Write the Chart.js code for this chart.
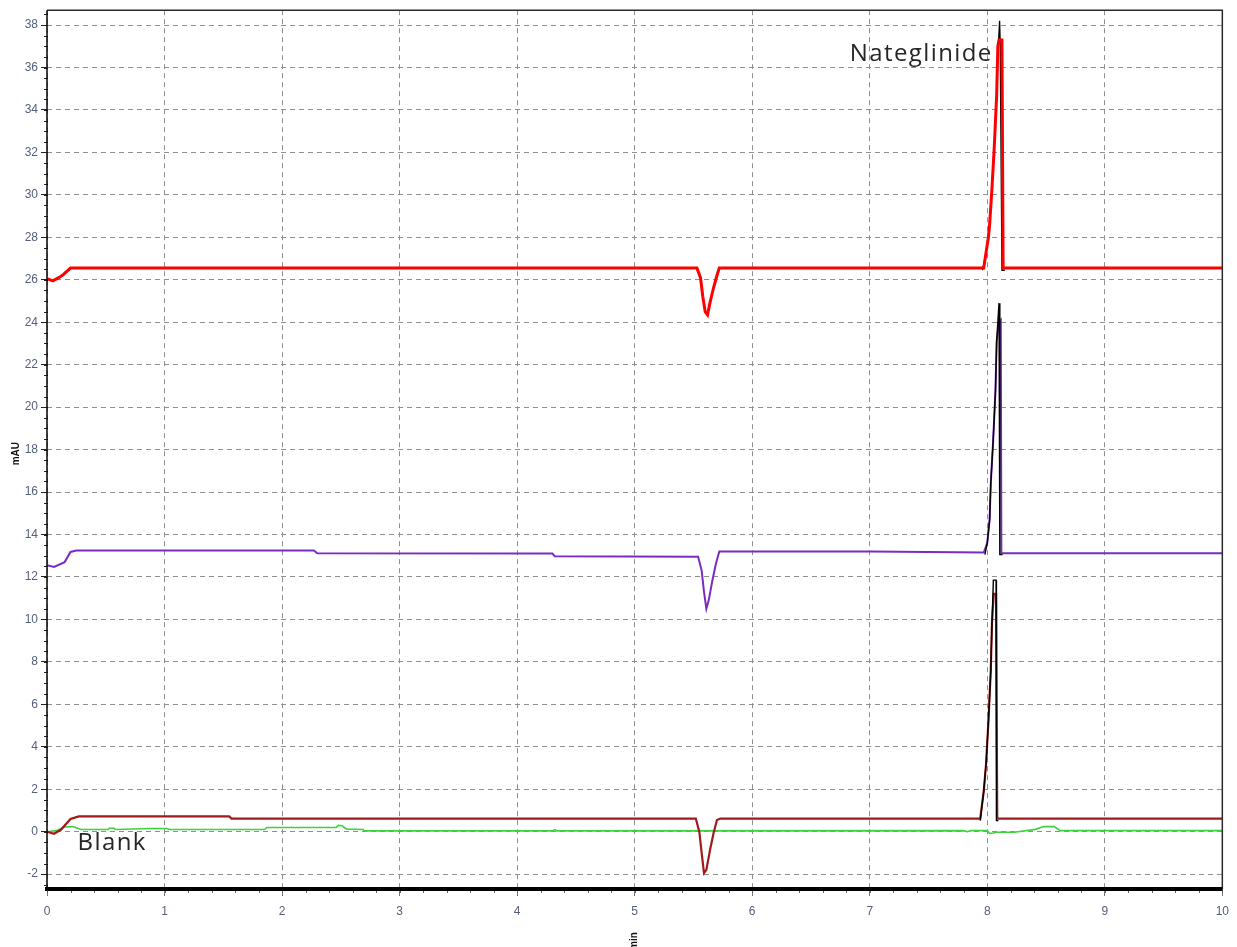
<!DOCTYPE html>
<html>
<head>
<meta charset="utf-8">
<script src="https://cdn.jsdelivr.net/npm/chart.js@4/dist/chart.umd.min.js"></script>
<style>
  html, body { margin: 0; padding: 0; background: #ffffff; }
  #wrap { width: 1237px; height: 947px; }
</style>
</head>
<body>
<div id="wrap"><canvas id="chrom" width="1237" height="947"></canvas></div>
<script>
// Axis ticks
const xTicks = [0, 1, 2, 3, 4, 5, 6, 7, 8, 9, 10];
const xTickLabels = ['0', '1', '2', '3', '4', '5', '6', '7', '8', '9', '10'];
const yTicks = [-2, 0, 2, 4, 6, 8, 10, 12, 14, 16, 18, 20, 22, 24, 26, 28, 30, 32, 34, 36, 38];
const yTickLabels = ['-2', '0', '2', '4', '6', '8', '10', '12', '14', '16', '18', '20', '22', '24', '26', '28', '30', '32', '34', '36', '38'];

// Nateglinide standard (top trace), retention time in min, signal in mAU
const redTime   = [0, 0.05, 0.1, 0.14, 0.2, 5.53, 5.56, 5.58, 5.6, 5.62, 5.64, 5.67, 5.7, 5.72, 7.97, 7.99, 8.01, 8.02, 8.04, 8.06, 8.08, 8.09, 8.1, 8.125, 8.135, 10];
const redSignal = [26.05, 25.95, 26.1, 26.25, 26.55, 26.55, 26.1, 25.2, 24.5, 24.35, 24.9, 25.6, 26.2, 26.55, 26.55, 27.3, 28.0, 28.6, 30.3, 32.3, 34.7, 37.0, 37.3, 37.3, 26.55, 26.55];
const redPeakTime   = [7.96, 7.99, 8.02, 8.04, 8.06, 8.08, 8.095, 8.105, 8.11, 8.125, 8.15];
const redPeakSignal = [26.45, 27.3, 28.6, 30.3, 32.3, 34.7, 37.1, 38.2, 37.2, 26.45, 26.45];

// Middle trace
const purpleTime   = [0, 0.06, 0.15, 0.2, 0.25, 2.27, 2.3, 4.3, 4.32, 5.54, 5.57, 5.59, 5.61, 5.63, 5.66, 5.69, 5.72, 7.0, 7.97, 8.0, 8.02, 8.03, 8.05, 8.07, 8.08, 8.1, 8.115, 8.12, 8.16, 10];
const purpleSignal = [12.55, 12.47, 12.7, 13.18, 13.25, 13.25, 13.12, 13.1, 12.98, 12.95, 12.3, 11.3, 10.5, 10.9, 11.8, 12.6, 13.2, 13.2, 13.15, 13.6, 14.7, 16.4, 18.4, 20.8, 23.1, 24.0, 24.1, 13.12, 13.12, 13.12];
const purplePeakTime   = [7.98, 8.0, 8.02, 8.03, 8.05, 8.07, 8.08, 8.1, 8.107, 8.13];
const purplePeakSignal = [13.05, 13.6, 14.7, 16.4, 18.4, 20.8, 23.1, 24.9, 13.05, 13.05];

// Lower trace
const brownTime   = [0, 0.06, 0.12, 0.2, 0.27, 1.55, 1.57, 5.52, 5.55, 5.57, 5.59, 5.61, 5.64, 5.67, 5.7, 5.73, 7.94, 7.97, 7.99, 8.01, 8.03, 8.04, 8.055, 8.075, 8.085, 8.1, 10];
const brownSignal = [0.0, -0.1, 0.1, 0.6, 0.72, 0.72, 0.62, 0.62, 0.0, -1.0, -1.95, -1.8, -0.9, -0.1, 0.55, 0.62, 0.62, 1.9, 3.2, 5.2, 7.6, 9.8, 11.2, 11.2, 0.62, 0.62, 0.62];
const brownPeakTime   = [7.94, 7.97, 7.99, 8.01, 8.03, 8.04, 8.052, 8.075, 8.078, 8.095];
const brownPeakSignal = [0.52, 1.9, 3.2, 5.2, 7.6, 9.8, 11.85, 11.85, 0.52, 0.52];

// Blank
const greenTime   = [0, 0.08, 0.15, 0.22, 0.29, 0.52, 0.53, 0.57, 0.58, 0.88, 1.02, 1.04, 1.85, 1.87, 2.46, 2.48, 2.51, 2.55, 2.69, 2.7, 4.3, 4.32, 4.34, 7.8, 7.83, 7.86, 8.0, 8.02, 8.05, 8.08, 8.23, 8.41, 8.48, 8.57, 8.62, 10];
const greenSignal = [0.0, 0.05, 0.22, 0.24, 0.1, 0.1, 0.16, 0.16, 0.1, 0.15, 0.15, 0.1, 0.1, 0.2, 0.2, 0.3, 0.28, 0.12, 0.1, 0.04, 0.04, 0.1, 0.04, 0.05, 0.0, 0.05, 0.05, -0.08, -0.06, -0.03, -0.03, 0.11, 0.24, 0.24, 0.05, 0.05];

const pairs = (t, s) => t.map((x, i) => ({ x: x, y: s[i] }));

function trace(label, t, s, color, width, order) {
  return {
    label: label,
    data: pairs(t, s),
    borderColor: color,
    backgroundColor: color,
    borderWidth: width,
    pointRadius: 0,
    tension: 0,
    fill: false,
    order: order
  };
}

const TICK_FONT = { family: '"Liberation Sans Narrow", "Liberation Sans", Arial, sans-serif', size: 12 };
const TICK_COLOR = '#55607e';
const GRID_COLOR = '#8f8f8f';

// Peak labels placed in data coordinates
const peakLabels = [
  { text: 'Nateglinide', x: 6.83, y: 36.3 },
  { text: 'Blank', x: 0.26, y: -0.86 }
];

const backgroundPlugin = {
  id: 'paper',
  beforeDraw(chart) {
    const ctx = chart.ctx;
    ctx.save();
    ctx.fillStyle = '#ffffff';
    ctx.fillRect(0, 0, chart.width, chart.height);
    ctx.restore();
  }
};

const framePlugin = {
  id: 'frame',
  afterDatasetsDraw(chart) {
    const { ctx, chartArea: a, scales } = chart;
    const xs = scales.x, ys = scales.y;
    ctx.save();
    // minor ticks on the time axis
    ctx.strokeStyle = '#666';
    ctx.lineWidth = 1;
    for (let v = 0; v <= 10.001; v += 0.2) {
      const px = Math.round(xs.getPixelForValue(v)) + 0.5;
      ctx.beginPath();
      ctx.moveTo(px, a.bottom);
      ctx.lineTo(px, a.bottom + 4);
      ctx.stroke();
    }
    // minor ticks on the signal axis
    ctx.strokeStyle = '#222';
    for (let v = -2.5; v <= 38.5; v += 0.5) {
      const py = Math.round(ys.getPixelForValue(v)) + 0.5;
      ctx.beginPath();
      ctx.moveTo(a.left - 3, py);
      ctx.lineTo(a.left + 1, py);
      ctx.stroke();
    }
    // frame
    ctx.strokeStyle = '#2b2b2b';
    ctx.lineWidth = 1.5;
    ctx.beginPath();
    ctx.moveTo(a.left, a.top);
    ctx.lineTo(a.right, a.top);
    ctx.lineTo(a.right, a.bottom);
    ctx.stroke();
    ctx.strokeStyle = '#111';
    ctx.lineWidth = 1.6;
    ctx.beginPath();
    ctx.moveTo(a.left, a.top);
    ctx.lineTo(a.left, a.bottom);
    ctx.stroke();
    ctx.strokeStyle = '#000';
    ctx.lineWidth = 4;
    ctx.beginPath();
    ctx.moveTo(a.left - 2, a.bottom);
    ctx.lineTo(a.right, a.bottom);
    ctx.stroke();
    ctx.restore();
  },
  afterDraw(chart) {
    const { ctx, chartArea: a, scales } = chart;
    ctx.save();
    // peak labels
    ctx.fillStyle = '#262626';
    ctx.font = '24px "Open Sans", "Noto Sans", sans-serif';
    ctx.letterSpacing = '1.4px';
    ctx.textAlign = 'left';
    ctx.textBaseline = 'alphabetic';
    peakLabels.forEach(l => {
      ctx.fillText(l.text, scales.x.getPixelForValue(l.x), scales.y.getPixelForValue(l.y));
    });
    ctx.letterSpacing = '0px';
    // axis titles
    ctx.fillStyle = '#111';
    ctx.font = 'bold 10px "Liberation Sans", Arial, sans-serif';
    ctx.textAlign = 'center';
    ctx.textBaseline = 'middle';
    ctx.translate(16, (a.top + a.bottom) / 2 + 4);
    ctx.rotate(-Math.PI / 2);
    ctx.fillText('mAU', 0, 0);
    ctx.restore();
    ctx.save();
    ctx.fillStyle = '#111';
    ctx.font = 'bold 10px "Liberation Sans", Arial, sans-serif';
    ctx.textAlign = 'left';
    ctx.textBaseline = 'middle';
    ctx.translate((a.left + a.right) / 2, chart.height + 3);
    ctx.rotate(-Math.PI / 2);
    ctx.fillText('min', 0, 0);
    ctx.restore();
  }
};

new Chart(document.getElementById('chrom'), {
  type: 'line',
  data: {
    datasets: [
      trace('Nateglinide', redTime, redSignal, '#ff0000', 3, 1),
      trace('Nateglinide peak', redPeakTime, redPeakSignal, '#000000', 1.3, 2),
      trace('Sample peak', purplePeakTime, purplePeakSignal, '#000000', 1.4, 0),
      trace('Sample', purpleTime, purpleSignal, '#7a2cc0', 2, 1),
      trace('Spiked peak', brownPeakTime, brownPeakSignal, '#000000', 1.4, 0),
      trace('Spiked', brownTime, brownSignal, '#9e1b1b', 2.2, 1),
      trace('Blank', greenTime, greenSignal, '#3fd23f', 1.6, 3)
    ]
  },
  options: {
    responsive: false,
    animation: false,
    layout: { padding: { top: 9, right: 10, left: 0, bottom: 0 } },
    plugins: {
      legend: { display: false },
      tooltip: { enabled: false }
    },
    scales: {
      x: {
        type: 'linear',
        min: 0,
        max: 10,
        afterFit(s) { s.height = 58; },
        afterBuildTicks(s) { s.ticks = xTicks.map(v => ({ value: v })); },
        ticks: {
          font: TICK_FONT,
          color: TICK_COLOR,
          padding: 8,
          maxRotation: 0,
          autoSkip: false,
          callback: (v, i) => xTickLabels[i]
        },
        grid: {
          color: GRID_COLOR,
          lineWidth: 1,
          drawTicks: true,
          tickLength: 7,
          tickColor: '#777'
        },
        border: { display: false, dash: [5, 4] }
      },
      y: {
        type: 'linear',
        min: -2.7,
        max: 38.7,
        afterFit(s) { s.width = 47; },
        afterBuildTicks(s) { s.ticks = yTicks.map(v => ({ value: v })); },
        ticks: {
          font: TICK_FONT,
          color: TICK_COLOR,
          padding: 3,
          autoSkip: false,
          callback: (v, i) => yTickLabels[i]
        },
        grid: {
          color: GRID_COLOR,
          lineWidth: 1,
          drawTicks: true,
          tickLength: 6,
          tickColor: '#222'
        },
        border: { display: false, dash: [5, 4] }
      }
    }
  },
  plugins: [backgroundPlugin, framePlugin]
});
</script>
</body>
</html>
